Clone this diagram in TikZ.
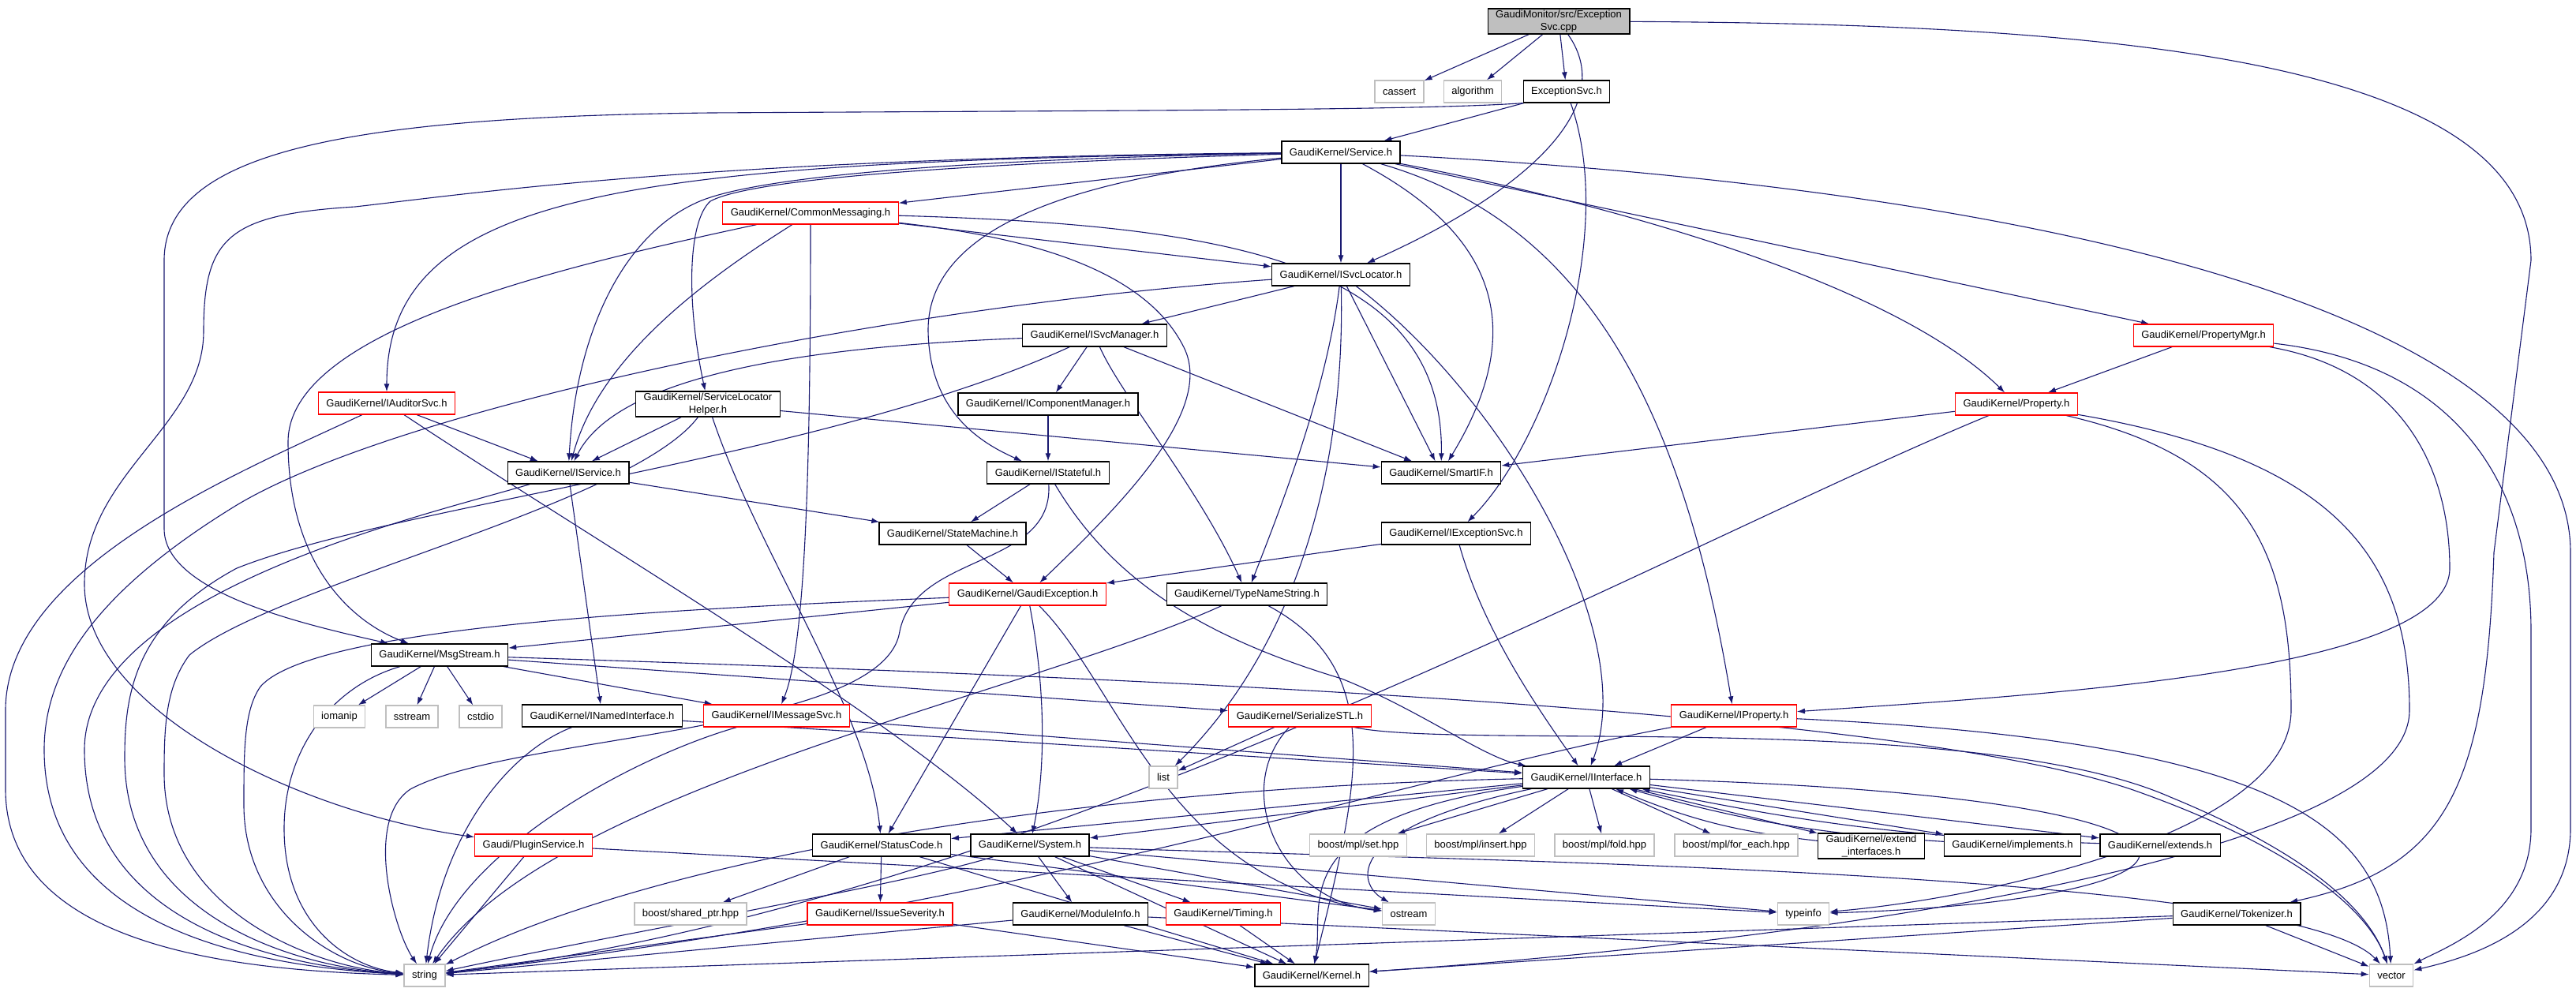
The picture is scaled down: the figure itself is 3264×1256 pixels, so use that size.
\documentclass[tikz,border=0pt]{standalone}
\usepackage{fontspec}
\setmainfont{Liberation Sans}
\usetikzlibrary{arrows.meta}
\definecolor{edgecol}{HTML}{191970}
\definecolor{sysgray}{HTML}{BFBFBF}
\pgfdeclarelayer{bg}
\pgfsetlayers{bg,main}
\tikzset{
  box/.style={draw=black, fill=white, font=\fontsize{13}{16}\selectfont, inner xsep=10pt, inner ysep=2pt, minimum height=28pt, line width=1.3pt, align=center},
  redbox/.style={box, draw=red},
  sysbox/.style={box, draw=sysgray},
  rootbox/.style={box, fill=sysgray},
  edge/.style={draw=edgecol, line width=1.1pt, -{Latex[length=10pt,width=7pt]}},
}
\begin{document}
\begin{tikzpicture}[x=1pt,y=-1pt]
\useasboundingbox (0,0) rectangle (3264,1256);
% nodes
\node[rootbox] (root) at (1975,27) {GaudiMonitor/src/Exception\\Svc.cpp};
\node[sysbox] (cassert) at (1773,116) {cassert};
\node[sysbox] (algorithm) at (1866,116) {algorithm};
\node[box] (excsvch) at (1985,116) {ExceptionSvc.h};
\node[box] (service) at (1699,193) {GaudiKernel/Service.h};
\node[redbox] (commsg) at (1027,270) {GaudiKernel/CommonMessaging.h};
\node[box] (isvcloc) at (1699,348) {GaudiKernel/ISvcLocator.h};
\node[box] (isvcmgr) at (1387,425) {GaudiKernel/ISvcManager.h};
\node[redbox] (propmgr) at (2792,425) {GaudiKernel/PropertyMgr.h};
\node[redbox] (iauditor) at (490,511) {GaudiKernel/IAuditorSvc.h};
\node[box] (slh) at (897,512) {GaudiKernel/ServiceLocator\\Helper.h};
\node[box] (icompmgr) at (1328,512) {GaudiKernel/IComponentManager.h};
\node[redbox] (property) at (2555,512) {GaudiKernel/Property.h};
\node[box] (iservice) at (720,599) {GaudiKernel/IService.h};
\node[box] (istateful) at (1328,599) {GaudiKernel/IStateful.h};
\node[box] (smartif) at (1826,599) {GaudiKernel/SmartIF.h};
\node[box] (statemachine) at (1207,676) {GaudiKernel/StateMachine.h};
\node[box] (iexcsvc) at (1845,676) {GaudiKernel/IExceptionSvc.h};
\node[redbox] (gaudiexc) at (1302,753) {GaudiKernel/GaudiException.h};
\node[box] (typename) at (1580,753) {GaudiKernel/TypeNameString.h};
\node[box] (msgstream) at (557,830) {GaudiKernel/MsgStream.h};
\node[sysbox] (iomanip) at (430,908) {iomanip};
\node[sysbox] (sstream) at (522,908) {sstream};
\node[sysbox] (cstdio) at (609,908) {cstdio};
\node[box] (inamed) at (763,907) {GaudiKernel/INamedInterface.h};
\node[redbox] (imsgsvc) at (984,907) {GaudiKernel/IMessageSvc.h};
\node[redbox] (serstl) at (1647,907) {GaudiKernel/SerializeSTL.h};
\node[redbox] (iproperty) at (2197,907) {GaudiKernel/IProperty.h};
\node[sysbox] (list) at (1474,985) {list};
\node[box] (iinterface) at (2010,985) {GaudiKernel/IInterface.h};
\node[redbox] (pluginsvc) at (676,1071) {Gaudi/PluginService.h};
\node[box] (statuscode) at (1117,1071) {GaudiKernel/StatusCode.h};
\node[box] (system) at (1305,1071) {GaudiKernel/System.h};
\node[sysbox] (mplset) at (1721,1071) {boost/mpl/set.hpp};
\node[sysbox] (mplinsert) at (1876,1071) {boost/mpl/insert.hpp};
\node[sysbox] (mplfold) at (2033,1071) {boost/mpl/fold.hpp};
\node[sysbox] (mplforeach) at (2200,1071) {boost/mpl/for\_each.hpp};
\node[box] (extendif) at (2371,1072) {GaudiKernel/extend\\\_interfaces.h};
\node[box] (implements) at (2550,1071) {GaudiKernel/implements.h};
\node[box] (extends) at (2737,1071) {GaudiKernel/extends.h};
\node[sysbox] (sharedptr) at (875,1158) {boost/shared\_ptr.hpp};
\node[redbox] (issuesev) at (1115,1158) {GaudiKernel/IssueSeverity.h};
\node[box] (moduleinfo) at (1369,1158) {GaudiKernel/ModuleInfo.h};
\node[redbox] (timing) at (1550,1158) {GaudiKernel/Timing.h};
\node[sysbox] (ostream) at (1785,1158) {ostream};
\node[sysbox] (typeinfo) at (2285,1158) {typeinfo};
\node[box] (tokenizer) at (2834,1158) {GaudiKernel/Tokenizer.h};
\node[sysbox] (string) at (538,1236) {string};
\node[box] (kernel) at (1662,1236) {GaudiKernel/Kernel.h};
\node[sysbox] (vector) at (3030,1236) {vector};
\begin{pgfonlayer}{bg}
% root
\draw[edge] (root) -- (cassert);
\draw[edge] (root) -- (algorithm);
\draw[edge] (root) -- (excsvch);
\draw[edge] (root) .. controls (2055,140) and (1920,250) .. (isvcloc);
\draw[edge] (root) .. controls (2700,30) and (3207,80) .. (3207,330) -- (3160,700) .. controls (3150,1000) and (3100,1100) .. (tokenizer);
% ExceptionSvc.h
\draw[edge] (excsvch) -- (service);
\draw[edge] (excsvch) .. controls (2050,300) and (1960,560) .. (iexcsvc);
\draw[edge] (excsvch.south west) .. controls (1800,140) and (1400,140) .. (900,143) .. controls (450,148) and (208,190) .. (208,330) -- (208,670) .. controls (208,750) and (380,790) .. (msgstream);
% Service.h
\draw[edge] (service) -- (commsg);
\draw[edge] (service) -- (isvcloc);
\draw[edge] (service) .. controls (1300,200) and (960,218) .. (880,258) .. controls (790,300) and (730,420) .. (iservice);
\draw[edge] (service) .. controls (1300,205) and (960,222) .. (900,255) .. controls (872,280) and (869,380) .. (slh);
\draw[edge] (service) .. controls (800,205) and (490,240) .. (iauditor);
\draw[edge] (service) .. controls (900,200) and (600,245) .. (450,262) .. controls (290,272) and (258,300) .. (258,420) .. controls (258,540) and (107,600) .. (107,740) .. controls (107,900) and (380,1030) .. (pluginsvc);
\draw[edge] (service) .. controls (1260,235) and (1175,330) .. (1176,420) .. controls (1178,520) and (1240,560) .. (istateful);
\draw[edge] (service) .. controls (1900,300) and (1935,420) .. (smartif);
\draw[edge] (service) .. controls (2000,280) and (2130,500) .. (iproperty);
\draw[edge] (service) .. controls (2050,260) and (2400,360) .. (property);
\draw[edge] (service) -- (propmgr);
\draw[edge] (service) .. controls (2600,240) and (3257,400) .. (3257,700) -- (3257,1050) .. controls (3257,1180) and (3120,1215) .. (vector);
% CommonMessaging.h
\draw[edge] (commsg) -- (isvcloc);
\draw[edge] (commsg) .. controls (1550,285) and (1830,330) .. (smartif);
\draw[edge] (commsg) .. controls (1300,300) and (1450,340) .. (1500,440) .. controls (1540,520) and (1420,640) .. (gaudiexc);
\draw[edge] (commsg) .. controls (1027,600) and (1020,820) .. (imsgsvc);
\draw[edge] (commsg) .. controls (900,350) and (760,450) .. (iservice);
\draw[edge] (commsg) .. controls (700,340) and (365,420) .. (365,560) .. controls (365,720) and (450,790) .. (msgstream);
% ISvcLocator.h
\draw[edge] (isvcloc) -- (isvcmgr);
\draw[edge] (isvcloc) -- (smartif);
\draw[edge] (isvcloc) .. controls (1680,500) and (1620,650) .. (typename);
\draw[edge] (isvcloc) .. controls (1705,600) and (1640,820) .. (list);
\draw[edge] (isvcloc) .. controls (1900,500) and (2080,800) .. (iinterface);
\draw[edge] (isvcloc) .. controls (1100,390) and (500,520) .. (300,640) .. controls (120,750) and (56,850) .. (56,950) .. controls (56,1180) and (330,1225) .. (string);
% ISvcManager.h
\draw[edge] (isvcmgr) -- (icompmgr);
\draw[edge] (isvcmgr) .. controls (1000,440) and (780,480) .. (iservice);
\draw[edge] (isvcmgr) -- (smartif);
\draw[edge] (isvcmgr) .. controls (1420,500) and (1520,620) .. (typename);
\draw[edge] (isvcmgr) .. controls (1050,580) and (500,640) .. (300,720) .. controls (170,790) and (158,880) .. (158,960) .. controls (158,1160) and (370,1225) .. (string);
% IComponentManager.h
\draw[edge] (icompmgr) -- (istateful);
% IStateful.h
\draw[edge] (istateful) -- (statemachine);
\draw[edge] (istateful) .. controls (1400,720) and (1500,800) .. (1700,860) .. controls (1800,900) and (1880,960) .. (iinterface);
\draw[edge] (istateful) .. controls (1335,720) and (1160,700) .. (1140,800) .. controls (1120,930) and (650,930) .. (520,1000) .. controls (460,1040) and (500,1180) .. (string);
% ServiceLocatorHelper.h
\draw[edge] (slh) -- (iservice);
\draw[edge] (slh) -- (smartif);
\draw[edge] (slh) .. controls (960,700) and (1100,900) .. (statuscode);
\draw[edge] (slh) .. controls (800,640) and (350,740) .. (240,830) .. controls (210,870) and (208,920) .. (208,980) .. controls (208,1150) and (390,1225) .. (string);
% IAuditorSvc.h
\draw[edge] (iauditor) -- (iservice);
\draw[edge] (iauditor) .. controls (760,690) and (1120,900) .. (system);
\draw[edge] (iauditor) .. controls (300,600) and (7,720) .. (7,900) -- (7,1000) .. controls (7,1200) and (300,1230) .. (string);
% IService.h
\draw[edge] (iservice) -- (statemachine);
\draw[edge] (iservice) -- (inamed);
\draw[edge] (iservice) .. controls (550,650) and (107,750) .. (107,950) .. controls (107,1170) and (350,1225) .. (string);
% StateMachine.h
\draw[edge] (statemachine) -- (gaudiexc);
% IExceptionSvc.h
\draw[edge] (iexcsvc) -- (gaudiexc);
\draw[edge] (iexcsvc) .. controls (1880,800) and (1950,900) .. (iinterface);
% GaudiException.h
\draw[edge] (gaudiexc) -- (msgstream);
\draw[edge] (gaudiexc) -- (statuscode);
\draw[edge] (gaudiexc) .. controls (1330,900) and (1320,1000) .. (system);
\draw[edge] (gaudiexc) .. controls (1420,870) and (1480,1120) .. (ostream);
\draw[edge] (gaudiexc) .. controls (900,770) and (400,790) .. (330,870) .. controls (309,900) and (309,950) .. (309,1020) .. controls (309,1150) and (420,1225) .. (string);
% TypeNameString.h
\draw[edge] (typename) .. controls (1760,850) and (1720,1000) .. (kernel);
\draw[edge] (typename) .. controls (1300,880) and (700,1000) .. (string);
% MsgStream.h
\draw[edge] (msgstream) -- (iomanip);
\draw[edge] (msgstream) -- (sstream);
\draw[edge] (msgstream) -- (cstdio);
\draw[edge] (msgstream) -- (imsgsvc);
\draw[edge] (msgstream) -- (serstl);
\draw[edge] (msgstream) .. controls (1500,860) and (2400,900) .. (2700,1000) .. controls (2900,1070) and (3000,1150) .. (vector);
\draw[edge] (msgstream) .. controls (420,870) and (360,950) .. (360,1050) .. controls (360,1170) and (440,1225) .. (string);
% INamedInterface.h, IMessageSvc.h
\draw[edge] (inamed) -- (iinterface);
\draw[edge] (inamed) .. controls (650,950) and (560,1050) .. (string);
\draw[edge] (imsgsvc) -- (iinterface);
\draw[edge] (imsgsvc) .. controls (800,960) and (580,1080) .. (string);
% SerializeSTL.h
\draw[edge] (serstl) -- (list);
\draw[edge] (serstl) .. controls (1560,1000) and (1620,1140) .. (ostream);
\draw[edge] (serstl) .. controls (1850,950) and (2500,900) .. (2750,1010) .. controls (2920,1080) and (3000,1150) .. (vector);
% IProperty.h
\draw[edge] (iproperty) -- (iinterface);
\draw[edge] (iproperty) .. controls (2900,940) and (3020,1050) .. (vector);
\draw[edge] (iproperty) .. controls (1800,980) and (1300,1150) .. (string);
% PropertyMgr.h
\draw[edge] (propmgr) -- (property);
\draw[edge] (propmgr) .. controls (3050,470) and (3104,600) .. (3104,720) .. controls (3104,850) and (2600,880) .. (iproperty);
\draw[edge] (propmgr) .. controls (3100,460) and (3207,600) .. (3207,800) -- (3207,1050) .. controls (3207,1160) and (3100,1200) .. (vector);
% Property.h
\draw[edge] (property) -- (smartif);
\draw[edge] (property) .. controls (2850,580) and (2903,700) .. (2903,900) .. controls (2903,1060) and (2500,1140) .. (typeinfo);
\draw[edge] (property) .. controls (2950,580) and (3053,700) .. (3053,900) .. controls (3053,1100) and (2200,1200) .. (kernel);
\draw[edge] (property) .. controls (2100,700) and (1300,1150) .. (string);
% IInterface.h
\draw[edge] (iinterface) -- (statuscode);
\draw[edge] (iinterface) -- (system);
\draw[edge] (iinterface) -- (mplset);
\draw[edge] (iinterface) -- (mplinsert);
\draw[edge] (iinterface) -- (mplfold);
\draw[edge] (iinterface) -- (mplforeach);
\draw[edge] (iinterface) -- (extendif);
\draw[edge] (iinterface) -- (implements);
\draw[edge] (iinterface) -- (extends);
\draw[edge] (extendif) to[bend left=8] (iinterface);
\draw[edge] (implements) to[bend left=6] (iinterface);
\draw[edge] (extends) to[bend left=5] (iinterface);
\draw[edge] (iinterface) .. controls (1700,1050) and (1720,1120) .. (ostream);
\draw[edge] (iinterface) .. controls (2900,1010) and (2850,1140) .. (typeinfo);
\draw[edge] (iinterface) .. controls (1620,1040) and (1680,1150) .. (kernel);
\draw[edge] (iinterface) .. controls (1300,1000) and (800,1100) .. (string);
% StatusCode.h
\draw[edge] (statuscode) -- (issuesev);
\draw[edge] (statuscode) -- (sharedptr);
\draw[edge] (statuscode) -- (kernel);
\draw[edge] (statuscode) -- (ostream);
% System.h
\draw[edge] (system) -- (moduleinfo);
\draw[edge] (system) -- (timing);
\draw[edge] (system) -- (kernel);
\draw[edge] (system) -- (typeinfo);
\draw[edge] (system) -- (ostream);
\draw[edge] (system) .. controls (1150,1120) and (800,1180) .. (string);
\draw[edge] (system) .. controls (1800,1090) and (2900,1100) .. (vector);
% leaves
\draw[edge] (issuesev) -- (string);
\draw[edge] (issuesev) -- (kernel);
\draw[edge] (moduleinfo) -- (string);
\draw[edge] (moduleinfo) -- (kernel);
\draw[edge] (moduleinfo) -- (vector);
\draw[edge] (timing) -- (kernel);
\draw[edge] (tokenizer) -- (string);
\draw[edge] (tokenizer) -- (kernel);
\draw[edge] (tokenizer) -- (vector);
\draw[edge] (pluginsvc) -- (string);
\draw[edge] (pluginsvc) -- (typeinfo);
\end{pgfonlayer}
\end{tikzpicture}
\end{document}
